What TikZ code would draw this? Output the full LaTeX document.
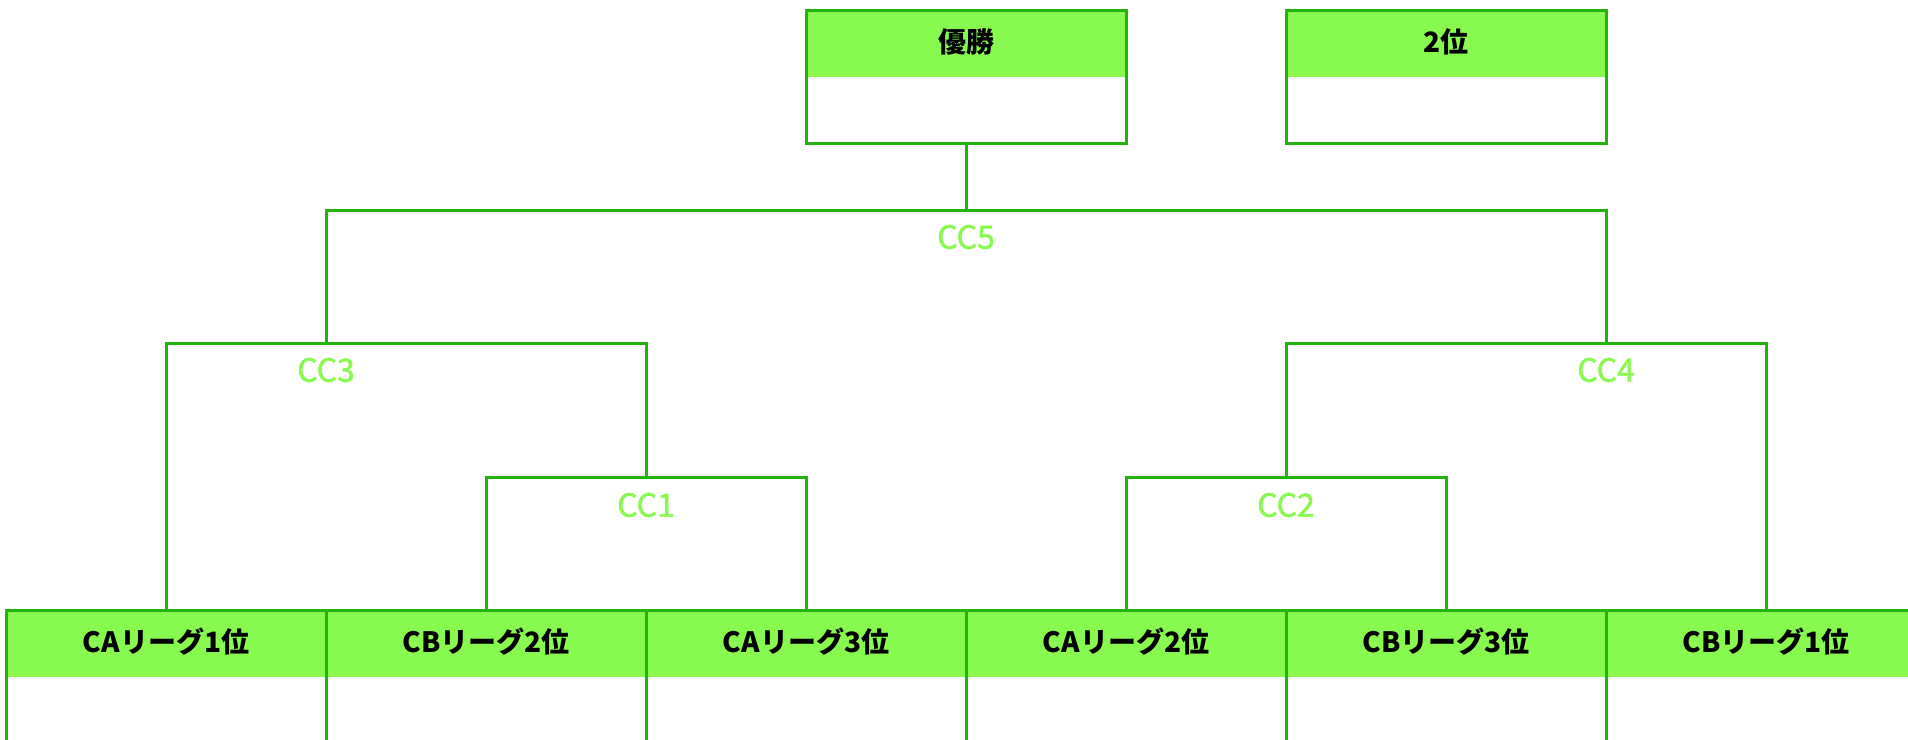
\documentclass[tikz,border=0pt]{standalone}
\usepackage{fontspec}
\setmainfont{Noto Sans CJK JP}
\newfontfamily\ccfont{Noto Sans CJK JP}[FakeBold=1.5]
\usetikzlibrary{positioning}
\definecolor{headgreen}{HTML}{88F94F}
\definecolor{edgegreen}{HTML}{22B30E}
\begin{document}
\begin{tikzpicture}[x=1pt,y=1pt]
        \tikzstyle{every node}+=[inner sep=0pt]
        \tikzstyle{box}=[draw=edgegreen, line width=3pt, minimum width=320pt,
          path picture={\fill[headgreen] (path picture bounding box.north west) rectangle ([yshift=-67pt]path picture bounding box.north east);}]
        \tikzstyle{topbox}=[box, minimum height=133pt]
        \tikzstyle{team}=[box, minimum height=150pt]
        \tikzstyle{headtxt}=[anchor=center, yshift=-33.5pt, font=\fontsize{28}{32}\selectfont\bfseries]
        \tikzstyle{bracket}=[draw=edgegreen, line width=3pt]
        \tikzstyle{cc}=[text=headgreen, font=\fontsize{32}{36}\ccfont]
        \useasboundingbox (0,0) rectangle (1908,-739);
        \node[topbox, label={[headtxt]north:優勝}] (win) at (966,-76.5) {};
        \node[topbox, label={[headtxt]north:2位}] (second) at (1446,-76.5) {};
        \node[team, label={[headtxt]north:CAリーグ1位}] (t1) at (166,-685) {};
        \node[team, label={[headtxt]north:CBリーグ2位}] (t2) at (486,-685) {};
        \node[team, label={[headtxt]north:CAリーグ3位}] (t3) at (806,-685) {};
        \node[team, label={[headtxt]north:CAリーグ2位}] (t4) at (1126,-685) {};
        \node[team, label={[headtxt]north:CBリーグ3位}] (t5) at (1446,-685) {};
        \node[team, label={[headtxt]north:CBリーグ1位}] (t6) at (1766,-685) {};
        \coordinate (m1) at (646,-477);
        \coordinate (m2) at (1286,-477);
        \coordinate (m3) at (326,-343);
        \coordinate (m4) at (1606,-343);
        \coordinate (m5) at (966,-210);
        \draw[bracket] (t2.north) |- (m1) -| (t3.north);
        \draw[bracket] (t4.north) |- (m2) -| (t5.north);
        \draw[bracket] (t1.north) |- (m3) -| (m1);
        \draw[bracket] (m2) |- (m4) -| (t6.north);
        \draw[bracket] (m3) |- (m5) -| (m4);
        \draw[bracket] (win.south) -- (m5);
        \node[cc] (c1) at ([yshift=-28pt]m1) {CC1};
        \node[cc] (c2) at ([yshift=-28pt]m2) {CC2};
        \node[cc] (c3) at ([yshift=-27pt]m3) {CC3};
        \node[cc] (c4) at ([yshift=-27pt]m4) {CC4};
        \node[cc] (c5) at ([yshift=-27pt]m5) {CC5};
\end{tikzpicture}
\end{document}
